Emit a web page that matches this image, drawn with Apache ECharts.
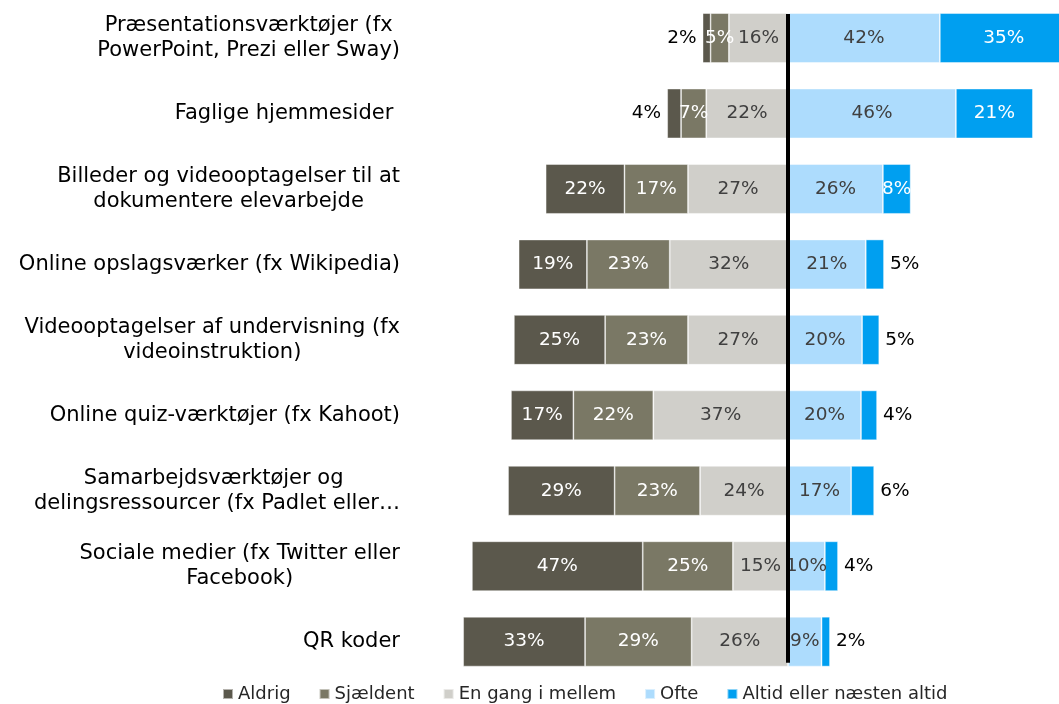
<!DOCTYPE html>
<html>
<head>
<meta charset="utf-8">
<script src="https://cdn.jsdelivr.net/npm/echarts@6/dist/echarts.min.js"></script>
<style>html,body{margin:0;padding:0;background:#fff;}#c{width:1059px;height:704px;}</style>
</head>
<body>
<div id="c"></div>
<script>
const categories = [
  "Præsentationsværktøjer (fx\nPowerPoint, Prezi eller Sway)",
  "Faglige hjemmesider ",
  "Billeder og videooptagelser til at\ndokumentere elevarbejde",
  "Online opslagsværker (fx Wikipedia)",
  "Videooptagelser af undervisning (fx\nvideoinstruktion)",
  "Online quiz-værktøjer (fx Kahoot)",
  "Samarbejdsværktøjer og \ndelingsressourcer (fx Padlet eller…",
  "Sociale medier (fx Twitter eller\nFacebook)",
  "QR koder"
];
const seriesNames = ["Aldrig", "Sjældent", "En gang i mellem", "Ofte", "Altid eller næsten altid"];
const aldrig    = [2.2, 3.8, 21.6, 18.7, 25.0, 17.1, 29.2, 46.8, 33.4];
const sjaeldent = [5.0, 6.9, 17.4, 22.7, 22.7, 21.9, 23.4, 24.7, 29.2];
const enGang    = [16.2, 22.4, 27.4, 32.4, 27.4, 36.9, 24.1, 15.1, 26.4];
const ofte      = [41.6, 46.0, 26.0, 21.3, 20.3, 20.0, 17.3, 10.1, 9.2];
const altid     = [35.0, 21.1, 7.6, 5.0, 4.7, 4.4, 6.3, 3.6, 2.3];

const colors = {
  "Aldrig": "#5b584c",
  "Sjældent": "#7a7865",
  "En gang i mellem": "#d0cfca",
  "Ofte": "#addcfd",
  "Altid eller næsten altid": "#009ff0"
};
const labelColors = {
  "Aldrig": "#ffffff",
  "Sjældent": "#ffffff",
  "En gang i mellem": "#404040",
  "Ofte": "#404040",
  "Altid eller næsten altid": "#ffffff"
};
const FONT = "'DejaVu Sans', Verdana, sans-serif";
const SMALL = 7;

function makeBar(name, values, sign, outerSide) {
  return {
    name: name,
    type: 'bar',
    stack: 'total',
    barWidth: '66%',
    itemStyle: { color: colors[name], borderColor: 'rgba(255,255,255,0.55)', borderWidth: 0.8 },
    label: {
      show: true,
      position: 'inside',
      color: labelColors[name],
      fontFamily: FONT,
      fontSize: 18.5,
      formatter: p => Math.round(Math.abs(p.value)) + '%'
    },
    data: values.map(v => {
      const item = { value: sign * v };
      if (outerSide && v < SMALL) {
        item.label = { position: outerSide, distance: 6, color: '#000000' };
      }
      return item;
    })
  };
}

const chart = echarts.init(document.getElementById('c'), null, { renderer: 'canvas' });
chart.setOption({
  animation: false,
  backgroundColor: '#ffffff',
  grid: { left: 459.5, width: 620.5, top: 0.3, height: 679.1, containLabel: false, outerBoundsMode: 'none' },
  legend: {
    data: seriesNames,
    left: 217,
    top: 680,
    icon: 'rect',
    itemWidth: 10,
    itemHeight: 10,
    itemGap: 28,
    textStyle: { fontFamily: FONT, fontSize: 18, color: '#262626' }
  },
  xAxis: {
    type: 'value',
    min: -90,
    max: 80,
    show: false
  },
  yAxis: {
    type: 'category',
    inverse: true,
    data: categories,
    axisLine: { show: false, onZero: false },
    axisTick: { show: false },
    splitLine: { show: false },
    axisLabel: {
      margin: 59.5,
      fontFamily: FONT,
      fontSize: 21,
      color: '#000000',
      formatter: v => v.split('\n').map(l => '{c|' + l + '}').join('\n'),
      rich: { c: { align: 'center', fontFamily: FONT, fontSize: 21, lineHeight: 25, color: '#000000' } }
    }
  },
  series: [
    makeBar("En gang i mellem", enGang, -1, null),
    makeBar("Sjældent", sjaeldent, -1, null),
    makeBar("Aldrig", aldrig, -1, 'left'),
    makeBar("Ofte", ofte, 1, null),
    makeBar("Altid eller næsten altid", altid, 1, 'right'),
    {
      type: 'custom',
      silent: true,
      z: 10,
      data: [[0, 0]],
      encode: { x: 0, y: 1 },
      renderItem: (params, api) => {
        const top = api.coord([0, 0]);
        const bot = api.coord([0, categories.length - 1]);
        const band = api.size([0, 1])[1];
        return {
          type: 'line',
          shape: { x1: top[0], y1: top[1] - band * 0.32, x2: bot[0], y2: bot[1] + band * 0.28 },
          style: { stroke: '#000000', lineWidth: 4 }
        };
      }
    }
  ]
});
</script>
</body>
</html>
